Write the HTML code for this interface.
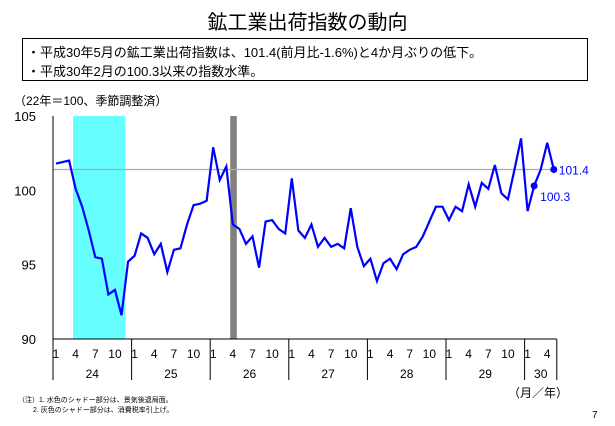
<!DOCTYPE html>
<html><head><meta charset="utf-8"><style>
body{margin:0;width:615px;height:426px;background:#fff;font-family:"Liberation Sans","Noto Sans CJK JP",sans-serif;position:relative;overflow:hidden}
.t{position:absolute;white-space:nowrap}
</style></head><body>
<div class="t" style="left:0;width:615px;text-align:center;top:6px;font-size:20px">鉱工業出荷指数の動向</div>
<div style="position:absolute;left:22px;top:38px;width:564px;height:41px;border:1px solid #000">
<div class="t" style="left:4px;top:3px;font-size:13px">・平成30年5月の鉱工業出荷指数は、101.4(前月比-1.6%)と4か月ぶりの低下。</div>
<div class="t" style="left:4px;top:22px;font-size:13px">・平成30年2月の100.3以来の指数水準。</div>
</div>
<div class="t" style="left:14px;top:92px;font-size:12px">（22年＝100、季節調整済）</div>
<svg id="c" width="615" height="426" style="position:absolute;left:0;top:0"></svg>
<div class="t" style="left:508px;top:384px;font-size:12px">（月／年）</div>
<div class="t" style="left:18px;top:395px;font-size:7px">（注）1. 水色のシャドー部分は、景気後退局面。</div>
<div class="t" style="left:33px;top:405px;font-size:7px">2. 灰色のシャドー部分は、消費税率引上げ。</div>
<div class="t" style="left:592px;top:410px;font-size:10px">7</div>
<script>
const values=[101.8,101.9,102.0,100.1,98.9,97.3,95.5,95.4,93.0,93.3,91.6,95.2,
95.6,97.1,96.8,95.7,96.4,94.5,96.0,96.1,97.7,99.0,99.1,99.3,
102.9,100.7,101.6,97.7,97.4,96.4,96.9,94.8,97.9,98.0,97.4,97.1,
100.8,97.3,96.8,97.7,96.2,96.8,96.2,96.4,96.1,98.8,96.2,94.9,
95.4,93.9,95.1,95.4,94.7,95.7,96.0,96.2,96.9,97.9,98.9,98.9,
98.0,98.9,98.6,100.4,98.9,100.5,100.1,101.7,99.8,99.4,101.4,103.5,
98.6,100.3,101.4,103.2,101.4];
const years=["24","25","26","27","28","29","30"];
const monthTicks=["1","4","7","10"];
const yTicks=[90,95,100,105];
const refValue=101.4;
const recession=[2.6,10.6];
const taxHike=[26.6,27.6];
const svg=document.getElementById('c');const NS='http://www.w3.org/2000/svg';
function X(i){return 56+i*6.55;}
function Y(v){return 339-(v-90)*(223/15);}
function mk(t,a,name){const e=document.createElementNS(NS,t);for(const k in a)e.setAttribute(k,a[k]);


svg.appendChild(e);return e;}
mk('rect',{x:X(recession[0]),y:Y(105),width:X(recession[1])-X(recession[0]),height:Y(90)-Y(105),fill:'#66ffff'},'recession-shade');
mk('rect',{x:X(taxHike[0]),y:Y(105),width:X(taxHike[1])-X(taxHike[0]),height:Y(90)-Y(105),fill:'#808080'},'tax-hike-shade');
mk('line',{x1:53,x2:X(values.length-1),y1:Y(refValue),y2:Y(refValue),stroke:'#aaa','stroke-width':1.2},'reference-line');
mk('line',{x1:53,x2:53,y1:Y(105),y2:Y(90),stroke:'#000'},'y-axis');
mk('line',{x1:53,x2:X(values.length-1)+3,y1:Y(90),y2:Y(90),stroke:'#000'},'x-axis');
yTicks.forEach(v=>{const t=mk('text',{x:36,y:Y(v)+5,'text-anchor':'end','font-size':13,'font-family':'Liberation Sans'},'y-tick-label');t.textContent=v;});
years.forEach((yr,k)=>{const x0=X(k*12)-3;
mk('line',{x1:x0,x2:x0,y1:Y(90),y2:380,stroke:'#000'},'year-separator');
const nm=k==6?5:12;
monthTicks.forEach((m,j)=>{const i=k*12+j*3;if(i-k*12>=nm)return;const t=mk('text',{x:X(i),y:358,'text-anchor':'middle','font-size':12,'font-family':'Liberation Sans'},'month-tick-label');t.textContent=m;});
const xe=k==6?X(values.length-1)+3:X(k*12+12)-3;
const t=mk('text',{x:(x0+xe)/2,y:378,'text-anchor':'middle','font-size':12,'font-family':'Liberation Sans'},'year-label');t.textContent=yr;});
mk('line',{x1:X(values.length-1)+3,x2:X(values.length-1)+3,y1:Y(90),y2:380,stroke:'#000'},'year-separator');
mk('polyline',{points:values.map((v,i)=>X(i)+','+Y(v)).join(' '),fill:'none',stroke:'#0000ff','stroke-width':2.2},'shipment-index-line');
const last=values.length-1,feb=values.length-4;
mk('circle',{cx:X(feb),cy:Y(values[feb]),r:3.5,fill:'#0000ff'},'feb-marker');
mk('circle',{cx:X(last),cy:Y(values[last]),r:3.5,fill:'#0000ff'},'latest-marker');
let t=mk('text',{x:X(last)+5,y:Y(values[last])+5,'font-size':12,fill:'#0000ff','font-family':'Liberation Sans'},'latest-value-label');t.textContent=values[last].toFixed(1);
t=mk('text',{x:X(feb)+6,y:Y(values[feb])+15,'font-size':12,fill:'#0000ff','font-family':'Liberation Sans'},'feb-value-label');t.textContent=values[feb].toFixed(1);
</script>
</body></html>
